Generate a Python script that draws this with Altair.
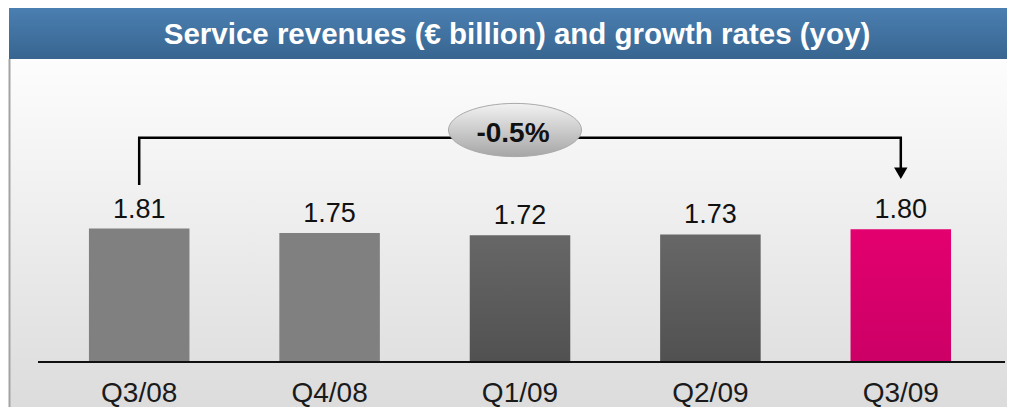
import altair as alt
import pandas as pd

# ---- data ----
quarters = ["Q3/08", "Q4/08", "Q1/09", "Q2/09", "Q3/09"]
revenues = [1.81, 1.75, 1.72, 1.73, 1.80]
value_labels = ["1.81", "1.75", "1.72", "1.73", "1.80"]
title_text = "Service revenues (€ billion) and growth rates (yoy)"
growth_label = "-0.5%"
growth_from = "Q3/08"
growth_to = "Q3/09"
# bracket levels (in € billion units of the y scale)
bracket_start = 2.40
bracket_top = 3.04
bracket_end = 2.56

light_quarters = ["Q3/08", "Q4/08"]
dark_quarters = ["Q1/09", "Q2/09"]
hi_quarters = ["Q3/09"]

FONT = "Liberation Sans, Arial, sans-serif"

df = pd.DataFrame({"quarter": quarters, "value": revenues, "label": value_labels})
bracket = pd.DataFrame({
    "quarter": [growth_from, growth_from, growth_to, growth_to],
    "value": [bracket_start, bracket_top, bracket_top, bracket_end],
    "order": [0, 1, 2, 3],
})
arrow = pd.DataFrame({"quarter": [growth_to], "value": [bracket_end]})
one = pd.DataFrame({"t": [title_text], "g": [growth_label]})

W, H = 999, 354


def grad(c1, c2):
    return alt.Gradient(
        gradient="linear",
        stops=[alt.GradientStop(color=c1, offset=0), alt.GradientStop(color=c2, offset=1)],
        x1=0, x2=0, y1=0, y2=1,
    )


xscale = alt.Scale(range=[36, 988], paddingInner=0.472, paddingOuter=0.236)
x_enc = alt.X(
    "quarter:N", sort=quarters, scale=xscale, title=None,
    axis=alt.Axis(domain=False, ticks=False, tickSize=0, labelPadding=39,
                  labelBaseline="alphabetic", labelFont=FONT, labelFontSize=28,
                  labelColor="#1a1a1a", labelAngle=0, grid=False, zindex=2),
)
y_enc = alt.Y("value:Q", scale=alt.Scale(domain=[0, 4.8]), axis=None)

base_one = alt.Chart(one)

bg = base_one.mark_rect(fill=grad("#fdfdfd", "#dcdcdc")).encode(
    x=alt.value(1), x2=alt.value(W), y=alt.value(51), y2=alt.value(H + 45))
left_border = base_one.mark_rule(color="#a3a3a3", strokeWidth=2).encode(
    x=alt.value(1.5), y=alt.value(51), y2=alt.value(H + 45))
banner = base_one.mark_rect(fill=grad("#4a7fb1", "#386590")).encode(
    x=alt.value(1), x2=alt.value(W), y=alt.value(0), y2=alt.value(51))
title = base_one.mark_text(font=FONT, fontSize=29.5, fontWeight="bold", color="white",
                           align="center", baseline="alphabetic").encode(
    x=alt.value(509), y=alt.value(36), text="t:N")

base = alt.Chart(df)
bars_light = base.mark_bar(color="#808080").encode(x=x_enc, y=y_enc).transform_filter(
    alt.FieldOneOfPredicate(field="quarter", oneOf=light_quarters))
bars_dark = base.mark_bar(color=grad("#676767", "#515151")).encode(x=x_enc, y=y_enc).transform_filter(
    alt.FieldOneOfPredicate(field="quarter", oneOf=dark_quarters))
bars_hi = base.mark_bar(color=grad("#e3006f", "#cc0066")).encode(x=x_enc, y=y_enc).transform_filter(
    alt.FieldOneOfPredicate(field="quarter", oneOf=hi_quarters))

baseline = base_one.mark_rule(color="#111111", strokeWidth=2).encode(
    x=alt.value(30), x2=alt.value(997), y=alt.value(H))

labels = base.mark_text(font=FONT, fontSize=27, color="#111111", baseline="alphabetic",
                        align="center", dy=-11).encode(x=x_enc, y=y_enc, text="label:N")

bracket_line = alt.Chart(bracket).mark_line(color="#000000", strokeWidth=2.5,
                                            strokeJoin="miter").encode(
    x=x_enc, y=y_enc, order="order:Q")
arrow_head = alt.Chart(arrow).mark_point(shape="triangle-down", filled=True, size=180,
                                         color="#000000", opacity=1).encode(x=x_enc, y=y_enc)

ellipse_path = "M -1 0 A 1 0.4 0 1 0 1 0 A 1 0.4 0 1 0 -1 0 Z"
ellipse = base_one.mark_point(shape=ellipse_path, filled=True, size=133 * 133,
                              fill=grad("#f2f2f2", "#a6a6a6"), stroke="#a9a9a9",
                              strokeWidth=1, opacity=1).encode(
    x=alt.value(507), y=alt.value(122))
ellipse_text = base_one.mark_text(font=FONT, fontSize=28, fontWeight="bold", color="#111111",
                                  align="center", baseline="alphabetic").encode(
    x=alt.value(505), y=alt.value(134), text="g:N")

chart = alt.layer(
    bg, left_border, banner, title, bars_light, bars_dark, bars_hi, baseline,
    labels, bracket_line, arrow_head, ellipse, ellipse_text,
).properties(
    width=W, height=H,
    background="white",
    autosize=alt.AutoSizeParams(type="none"),
    padding={"left": 0, "top": 0, "right": 0, "bottom": 45},
).configure_view(stroke=None)

chart.save("out.html", embed_options={"renderer": "svg", "actions": False})
